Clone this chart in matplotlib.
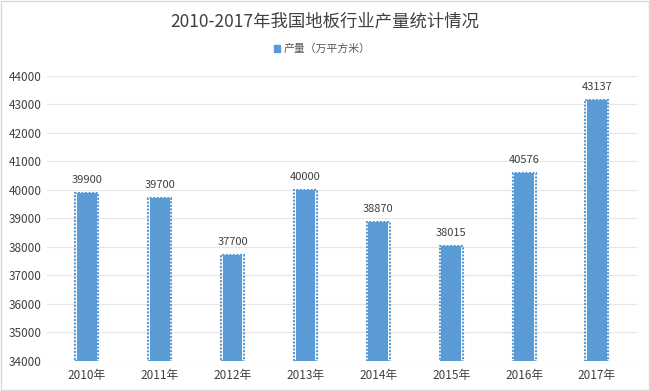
import matplotlib.pyplot as plt
import numpy as np
from matplotlib.patches import Rectangle

plt.rcParams['font.family'] = ['Noto Sans CJK SC', 'DejaVu Sans']

years = ["2010年", "2011年", "2012年", "2013年", "2014年", "2015年", "2016年", "2017年"]
output = [39900, 39700, 37700, 40000, 38870, 38015, 40576, 43137]
series_name = "产量（万平方米）"

BAR = "#5b9bd5"
TEXT = "#404040"
BASE = 34000

fig = plt.figure(figsize=(6.5, 3.91), dpi=100)
ax = fig.add_axes([0.072, 0.078, 0.908, 0.728])

x = np.arange(len(years))
heights = [v - BASE for v in output]
# solid fill, then a dotted outline a little outside with a white gap
ax.bar(x, heights, 0.27, bottom=BASE, color=BAR, linewidth=0, zorder=3)
ax.bar(x, heights, 0.315, bottom=BASE, color="none", edgecolor=BAR,
       linewidth=1.5, linestyle=(0, (1.0, 0.7)), zorder=4)

for xi, v in zip(x, output):
    ax.text(xi, v + 280, str(v), ha="center", va="bottom", fontsize=8, color=TEXT)

ax.set_xlim(-0.55, len(years) - 0.45)
ax.set_ylim(BASE, 44000)
ax.set_yticks(range(BASE, 44001, 1000))
ax.set_xticks(x)
ax.set_xticklabels(years)
ax.tick_params(axis="both", length=0, labelsize=8.5, colors=TEXT)
ax.tick_params(axis="x", pad=6)
ax.grid(True, axis="y", color="#e6e6e6", linewidth=0.8, zorder=0)
for s in ax.spines.values():
    s.set_visible(False)

fig.text(0.5, 0.945, "2010-2017年我国地板行业产量统计情况", ha="center", va="center",
         fontsize=12.5, color=TEXT)
fig.patches.append(Rectangle((0.422, 0.866), 0.008, 0.018, transform=fig.transFigure,
                             color=BAR))
fig.text(0.437, 0.875, series_name, ha="left", va="center", fontsize=7.8, color="#595959")

fig.patches.append(Rectangle((0.002, 0.003), 0.996, 0.994, transform=fig.transFigure,
                             fill=False, edgecolor="#d9d9d9", linewidth=1))

fig.savefig("out.png", dpi=100)
